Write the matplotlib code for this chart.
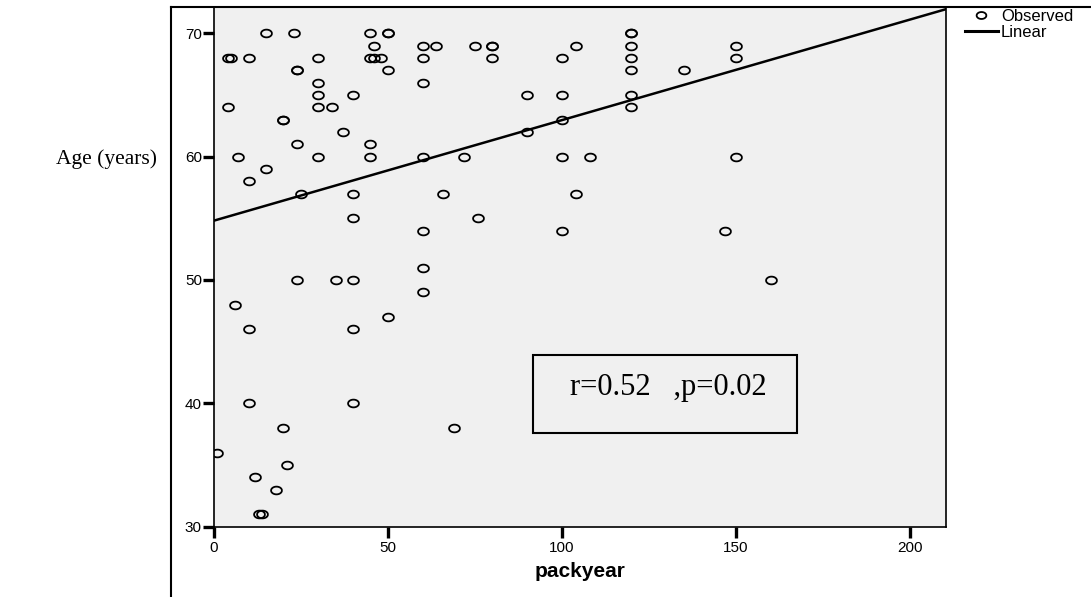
import numpy as np
import matplotlib
matplotlib.use('Agg')
import matplotlib.pyplot as plt
from matplotlib.lines import Line2D
from matplotlib.patches import Rectangle

plt.rcParams['font.family'] = ['Liberation Sans', 'DejaVu Sans']

# observed points (packyear, age)
packyear = [15, 23, 45, 50, 50, 120, 120,
            46, 60, 64, 75, 80, 80, 104, 120, 150,
            4, 5, 10, 30, 45, 46, 48, 60, 80, 100, 120, 150,
            24, 24, 50, 120, 135,
            30, 60,
            30, 40, 90, 100, 120,
            4, 30, 34, 120,
            20, 20, 100,
            37, 90,
            24, 45,
            7, 30, 45, 60, 72, 100, 108, 150,
            15, 10,
            25, 40, 66, 104,
            40, 76,
            60, 100, 147,
            60,
            24, 35, 40, 160,
            60, 6, 50, 10, 40,
            10, 40,
            20, 69,
            1, 21, 12, 18, 13, 14]
age = [70, 70, 70, 70, 70, 70, 70,
       69, 69, 69, 69, 69, 69, 69, 69, 69,
       68, 68, 68, 68, 68, 68, 68, 68, 68, 68, 68, 68,
       67, 67, 67, 67, 67,
       66, 66,
       65, 65, 65, 65, 65,
       64, 64, 64, 64,
       63, 63, 63,
       62, 62,
       61, 61,
       60, 60, 60, 60, 60, 60, 60, 60,
       59, 58,
       57, 57, 57, 57,
       55, 55,
       54, 54, 54,
       51,
       50, 50, 50, 50,
       49, 48, 47, 46, 46,
       40, 40,
       38, 38,
       36, 35, 34, 33, 31, 31]

# linear fit line
fit_intercept = 54.8
fit_slope = 0.0815

x_ticks = [0, 50, 100, 150, 200]
y_ticks = [30, 40, 50, 60, 70]
x_lim = (0, 210.4)
y_lim = (30, 72.1)

# wide ellipse marker like the SPSS circles
t = np.linspace(0, 2 * np.pi, 60)
ellipse = list(zip(1.4 * np.cos(t), np.sin(t)))

fig = plt.figure(figsize=(10.91, 5.97), dpi=100)
ax = fig.add_axes([0.1959, 0.1178, 0.6712, 0.870])
ax.set_facecolor('#f0f0f0')

ax.plot(packyear, age, linestyle='none', marker=ellipse, markersize=7.8,
        markerfacecolor='none', markeredgecolor='black', markeredgewidth=1.3)

xs = np.array(x_lim)
ax.plot(xs, fit_intercept + fit_slope * xs, color='black', linewidth=1.8)

ax.set_xlim(*x_lim)
ax.set_ylim(*y_lim)
ax.set_xticks(x_ticks)
ax.set_yticks(y_ticks)
ax.tick_params(axis='both', direction='out', length=8, width=2.4, labelsize=11)
ax.tick_params(axis='y', pad=0.5)
ax.tick_params(axis='x', pad=2)
for s in ax.spines.values():
    s.set_linewidth(1.2)

ax.set_xlabel('packyear', fontsize=15, fontweight='bold')
ax.xaxis.set_label_coords(0.5, -0.068)

fig.text(0.0975, 0.7337, 'Age (years)', family='Liberation Serif', fontsize=15.5,
         ha='center', va='center')

# r / p annotation box
ax.add_patch(Rectangle((0.4356, 0.181), 0.3614, 0.1496, transform=ax.transAxes,
                       fill=False, edgecolor='black', linewidth=1.5))
ax.text(0.4866, 0.2536, 'r=0.52   ,p=0.02', transform=ax.transAxes,
        family='Liberation Serif', fontsize=22, ha='left', va='baseline')

# outer frame (left and top edges visible)
fig.add_artist(Line2D([0.1567, 0.1567], [0, 0.9878], color='black', linewidth=1.5))
fig.add_artist(Line2D([0.1567, 1.0], [0.9878, 0.9878], color='black', linewidth=1.5))

handles = [Line2D([], [], linestyle='none', marker=ellipse, markersize=7,
                  markerfacecolor='none', markeredgecolor='black', markeredgewidth=1.3),
           Line2D([], [], color='black', linewidth=2.2)]
fig.legend(handles, ['Observed', 'Linear'], loc='upper left',
           bbox_to_anchor=(965 / 1091, 1 - 9 / 597), frameon=False, fontsize=12,
           handlelength=1.95, handletextpad=0.2, labelspacing=0.05,
           borderpad=0, borderaxespad=0)

fig.savefig('out.png', dpi=100)
